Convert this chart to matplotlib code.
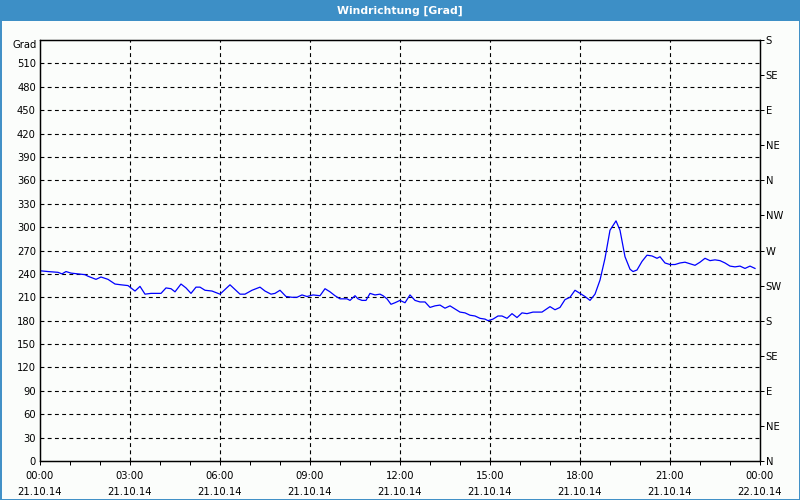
import matplotlib
matplotlib.use("Agg")
import matplotlib.pyplot as plt
from matplotlib.patches import Rectangle

# ---- data ----
minutes = [0, 16, 36, 44, 52, 62, 76, 90, 96, 112, 122, 136, 150, 162, 176, 182, 190, 200, 210, 222,
           242, 252, 262, 270, 282, 292, 302, 312, 320, 330, 344, 360, 380, 400, 410, 424, 440, 450,
           462, 470, 480, 492, 504, 514, 524, 534, 546, 560, 570, 580, 590, 600, 614, 620, 630, 636,
           644, 652, 660, 670, 680, 686, 694, 702, 710, 720, 730, 740, 750, 760, 770, 780, 790, 800,
           810, 820, 830, 840, 850, 860, 870, 880, 890, 896, 906, 916, 924, 934, 944, 954, 964, 974,
           986, 1004, 1020, 1030, 1040, 1050, 1060, 1070, 1080, 1090, 1100, 1110, 1120, 1130, 1140,
           1152, 1160, 1170, 1180, 1186, 1194, 1204, 1214, 1224, 1234, 1240, 1250, 1260, 1270, 1280,
           1290, 1300, 1310, 1320, 1330, 1340, 1350, 1360, 1370, 1380, 1390, 1400, 1410, 1420, 1430]
degrees = [244, 243, 242, 240, 243, 241, 240, 239, 237, 233, 236, 233, 227, 226, 225, 222, 218, 224, 214, 215,
           215, 222, 221, 217, 227, 222, 215, 223, 223, 219, 218, 214, 226, 214, 214, 219, 223, 218,
           214, 215, 219, 211, 210, 210, 213, 211, 213, 212, 221, 217, 212, 208, 208, 206, 212, 208,
           206, 206, 215, 213, 214, 212, 208, 201, 203, 206, 203, 213, 206, 204, 204, 197, 199, 200,
           196, 199, 195, 191, 190, 187, 186, 183, 182, 180, 182, 186, 186, 183, 189, 184, 190, 189,
           191, 191, 198, 194, 197, 207, 210, 219, 215, 211, 206, 214, 232, 260, 296,
           308, 296, 262, 246, 243, 245, 256, 264, 263, 260, 262, 254, 252, 252, 254,
           255, 253, 251, 255, 260, 257, 258, 257, 254, 250, 249, 250, 247, 250, 247]

title = "Windrichtung [Grad]"
y_label = "Grad"
y_ticks = list(range(0, 511, 30))
compass_ticks = list(range(0, 541, 45))
compass_labels = ["N", "NE", "E", "SE", "S", "SW", "W", "NW", "N", "NE", "E", "SE", "S"]
x_ticks_h = [0, 3, 6, 9, 12, 15, 18, 21, 24]
x_tick_labels = ["00:00\n21.10.14", "03:00\n21.10.14", "06:00\n21.10.14", "09:00\n21.10.14",
                 "12:00\n21.10.14", "15:00\n21.10.14", "18:00\n21.10.14", "21:00\n21.10.14",
                 "00:00\n22.10.14"]

hours = [m / 60.0 for m in minutes]

plt.rcParams['font.family'] = ['DejaVu Sans']
FS = 7.2
BLUE_BAR = '#3d8fc6'
BG = '#fbfdfb'

fig = plt.figure(figsize=(8, 5), dpi=100, facecolor=BG)

# title bar
fig.patches.append(Rectangle((0, 1 - 21 / 500), 1, 21 / 500, transform=fig.transFigure,
                             facecolor=BLUE_BAR, edgecolor='none', zorder=0))
# border
fig.patches.append(Rectangle((0.5 / 800, 0.5 / 500), 1 - 1 / 800, 1 - 1 / 500, transform=fig.transFigure,
                             facecolor='none', edgecolor=BLUE_BAR, linewidth=1.4, zorder=5))
fig.text(0.5, 1 - 11 / 500, title, color='white', fontsize=7.8, fontweight='bold',
         ha='center', va='center')

ax = fig.add_axes([40 / 800, 1 - 461 / 500, 720 / 800, 421 / 500])
ax.set_facecolor(BG)
ax.plot(hours, degrees, color='#0000ff', linewidth=0.9, zorder=3)

ax.set_xlim(0, 24)
ax.set_ylim(0, 540)

ax.set_xticks(x_ticks_h)
ax.set_xticklabels(x_tick_labels, fontsize=FS, linespacing=1.75)
ax.set_xticks(range(0, 25), minor=True)
ax.tick_params(axis='x', which='both', direction='out', length=3, width=0.72, pad=4)

ax.set_yticks(y_ticks)
ax.set_yticklabels([str(v) for v in y_ticks], fontsize=FS)
ax.tick_params(axis='y', which='both', length=0, pad=3)
ax.text(-0.004, 1.0, y_label, transform=ax.transAxes, ha='right', va='top', fontsize=FS)

for yv in y_ticks[1:]:
    ax.axhline(yv, color='black', linewidth=0.8, linestyle=(0, (3.5, 3)), zorder=1)
for xv in x_ticks_h[1:-1]:
    ax.axvline(xv, color='black', linewidth=0.8, linestyle=(0, (3.5, 3)), zorder=1)

ax2 = ax.twinx()
ax2.set_ylim(0, 540)
ax2.set_yticks(compass_ticks)
ax2.set_yticklabels(compass_labels, fontsize=FS)
ax2.tick_params(axis='y', direction='out', length=3, width=0.72, pad=1)

for a in (ax, ax2):
    for s in a.spines.values():
        s.set_color('black')
        s.set_linewidth(0.9)

fig.savefig('out.png', dpi=100, facecolor=BG)
